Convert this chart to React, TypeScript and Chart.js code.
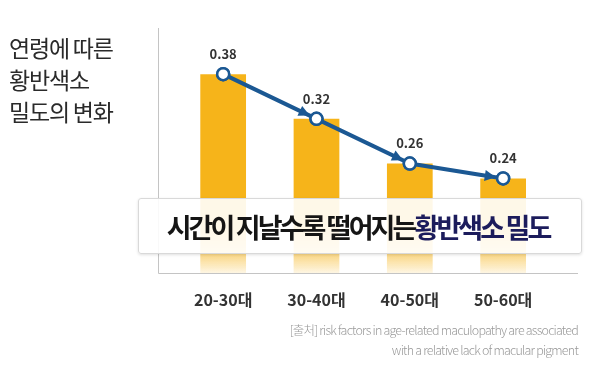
import React, { useEffect, useRef } from "react";
import { Chart, registerables } from "chart.js";

Chart.register(...registerables);

const categories = ["20-30대", "30-40대", "40-50대", "50-60대"];
const densityValues = [0.38, 0.32, 0.26, 0.24];
const valueLabels = ["0.38", "0.32", "0.26", "0.24"];
const titleLines = ["연령에 따른", "황반색소", "밀도의 변화"];
const headlineDark = "시간이 지날수록 떨어지는";
const headlineBlue = "황반색소 밀도";
const sourceLines = [
  "[출처] risk factors in age-related maculopathy are associated",
  "with a relative lack of macular pigment",
];

const BAR = "#F6B41A";
const LINE = "#1B5893";
const KR = '"Noto Sans CJK KR", "Noto Sans", sans-serif';

const decorPlugin = {
  id: "decor",
  beforeDatasetsDraw(chart: any) {
    const c = chart.ctx;
    c.save();
    c.strokeStyle = "#c4c4c4";
    c.lineWidth = 1;
    c.beginPath();
    c.moveTo(158.5, 28);
    c.lineTo(158.5, 273.5);
    c.lineTo(578, 273.5);
    c.stroke();
    c.restore();
  },
  afterDatasetsDraw(chart: any) {
    const c = chart.ctx;
    const meta = chart.getDatasetMeta(1);
    const pts = meta.data;
    c.save();
    c.fillStyle = LINE;
    for (let i = 0; i < pts.length - 1; i++) {
      const a = pts[i], b = pts[i + 1];
      const dx = b.x - a.x, dy = b.y - a.y;
      const len = Math.hypot(dx, dy);
      const ux = dx / len, uy = dy / len;
      const tx = b.x - ux * 7.5, ty = b.y - uy * 7.5;
      const L = 11, W = 5.5;
      const bx = tx - ux * L, by = ty - uy * L;
      c.beginPath();
      c.moveTo(tx, ty);
      c.lineTo(bx - uy * W, by + ux * W);
      c.lineTo(bx + uy * W, by - ux * W);
      c.closePath();
      c.fill();
    }
    pts.forEach((p: any) => {
      c.beginPath();
      c.arc(p.x, p.y, 6, 0, Math.PI * 2);
      c.fillStyle = "#ffffff";
      c.fill();
      c.lineWidth = 2.5;
      c.strokeStyle = LINE;
      c.stroke();
    });
    c.fillStyle = "#333333";
    c.font = `bold 13px ${KR}`;
    c.textAlign = "center";
    c.textBaseline = "middle";
    pts.forEach((p: any, i: number) => {
      c.fillText(valueLabels[i], p.x, p.y - 20);
    });
    const xs = chart.scales.x;
    c.fillStyle = "#333333";
    c.font = `bold 16px ${KR}`;
    categories.forEach((lab, i) => {
      c.fillText(lab, xs.getPixelForValue(i), 300);
    });
    c.restore();
  },
};

export default function App() {
  const ref = useRef<HTMLCanvasElement>(null);
  useEffect(() => {
    document.body.style.margin = "0";
    const chart = new Chart(ref.current as HTMLCanvasElement, {
      type: "bar",
      data: {
        labels: categories,
        datasets: [
          {
            type: "bar",
            data: densityValues,
            order: 2,
            barPercentage: 0.49,
            categoryPercentage: 1,
            backgroundColor: (ctx: any) => {
              const ca = ctx.chart.chartArea;
              if (!ca) return BAR;
              const g = ctx.chart.ctx.createLinearGradient(0, ca.top, 0, ca.bottom);
              g.addColorStop(0, BAR);
              g.addColorStop(0.82, BAR);
              g.addColorStop(0.92, "rgba(246,180,26,0.55)");
              g.addColorStop(1, "rgba(246,180,26,0.12)");
              return g;
            },
          } as any,
          {
            type: "line",
            data: densityValues,
            order: 1,
            borderColor: LINE,
            borderWidth: 4,
            pointRadius: 6,
            pointBackgroundColor: "#fff",
            pointBorderColor: LINE,
            pointBorderWidth: 2.5,
            tension: 0,
          } as any,
        ],
      },
      options: {
        animation: false,
        responsive: false,
        layout: { padding: { left: 176.5, right: 45.2, top: 28, bottom: 95 } },
        plugins: { legend: { display: false }, tooltip: { enabled: false } },
        scales: {
          x: { display: false, offset: true },
          y: { display: false, min: 0.113, max: 0.442 },
        },
      },
      plugins: [decorPlugin],
    });
    return () => chart.destroy();
  }, []);

  return (
    <div style={{ position: "fixed", left: 0, top: 0, width: 595, height: 368, background: "#fff", fontFamily: KR }}>
      <canvas ref={ref} width={595} height={368} style={{ position: "absolute", left: 0, top: 0 }} />
      <div style={{ position: "absolute", left: 9, top: 31, fontSize: 23, lineHeight: "32px", color: "#2a2a2a", letterSpacing: -1.2 }}>
        {titleLines.map((t, i) => (
          <div key={i}>{t}</div>
        ))}
      </div>
      <div
        style={{
          position: "absolute",
          left: 138,
          top: 198,
          width: 444,
          height: 56,
          boxSizing: "border-box",
          background: "rgba(255,255,255,0.9)",
          border: "1px solid #d9d9d9",
          borderRadius: 3,
          boxShadow: "0 1px 3px rgba(0,0,0,0.12)",
          display: "flex",
          alignItems: "center",
          justifyContent: "center",
          paddingRight: 4,
          fontSize: 27,
          fontWeight: 700,
          letterSpacing: -2.9,
          whiteSpace: "pre",
        }}
      >
        <span style={{ color: "#151515" }}>{headlineDark}</span>
        <span style={{ color: "#1c1c5c" }}>{headlineBlue}</span>
      </div>
      <div style={{ position: "absolute", right: 17, top: 320, textAlign: "right", fontSize: 12.5, lineHeight: "20px", color: "#9a9a9a", letterSpacing: -0.8, fontWeight: 300 }}>
        {sourceLines.map((t, i) => (
          <div key={i}>{t}</div>
        ))}
      </div>
    </div>
  );
}
